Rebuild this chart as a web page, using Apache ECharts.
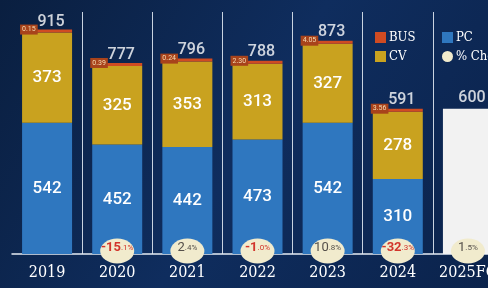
<!DOCTYPE html>
<html>
<head>
<meta charset="utf-8">
<script src="https://cdn.jsdelivr.net/npm/echarts@6/dist/echarts.min.js"></script>
<style>
  html, body { margin: 0; padding: 0; background: #0b2349; }
  #chart { width: 488px; height: 288px; }
</style>
</head>
<body>
<div id="chart"></div>
<script>
var years = ['2019', '2020', '2021', '2022', '2023', '2024', '2025FC'];
var pc = [542, 452, 442, 473, 542, 310, '-'];
var cv = [373, 325, 353, 313, 327, 278, '-'];
var bus = [0.15, 0.39, 0.24, 2.30, 4.05, 3.56, '-'];
var forecast = ['-', '-', '-', '-', '-', '-', 600];
var totals = [915, 777, 796, 788, 873, 591, 600];
var pctChg = [null, -15.1, 2.4, -1.0, 10.8, -32.3, 1.5];

var serifFont = '"DejaVu Serif Condensed", "Liberation Serif", serif';
var sansFont = 'Roboto, "Liberation Sans", sans-serif';

var myChart = echarts.init(document.getElementById('chart'));

// % chg circles sit on the baseline, the number goes in the label
var chgData = pctChg.map(function (p) {
    return p == null ? '-' : 0;
});

var option = {
    backgroundColor: {
        type: 'linear', x: 0, y: 0, x2: 1, y2: 1,
        colorStops: [
            { offset: 0, color: '#0a1f40' },
            { offset: 0.5, color: '#0f2d5e' },
            { offset: 1, color: '#0b234c' }
        ]
    },
    animation: false,
    // the last column runs off the right edge, like the source image
    grid: { left: 12, right: -15, top: 12, bottom: 34, outerBoundsMode: 'none', containLabel: false },
    legend: [
        {
            orient: 'vertical', left: 370, top: 26,
            itemWidth: 11, itemHeight: 11, itemGap: 6,
            data: [{ name: 'BUS', icon: 'rect' }, { name: 'CV', icon: 'rect' }],
            textStyle: { color: '#fff', fontSize: 13, fontFamily: serifFont, padding: [0, 0, 0, -2] }
        },
        {
            orient: 'vertical', left: 437, top: 26,
            itemWidth: 11, itemHeight: 11, itemGap: 6,
            data: [{ name: 'PC', icon: 'rect' }, { name: '% Chg', icon: 'circle' }],
            textStyle: { color: '#fff', fontSize: 13, fontFamily: serifFont, padding: [0, 0, 0, -2] }
        }
    ],
    xAxis: {
        type: 'category',
        data: years,
        axisTick: { show: false },
        axisLine: { lineStyle: { color: '#e6edf5', width: 1.5 } },
        axisLabel: { interval: 0, color: '#fff', fontSize: 16, fontFamily: serifFont, margin: 11 },
        splitLine: {
            show: true,
            interval: function (index) { return index > 0; },
            lineStyle: { color: '#c9d3e0', width: 1 }
        }
    },
    yAxis: { type: 'value', min: 0, max: 1000, show: false },
    series: [
        {
            name: 'PC', type: 'bar', stack: 'total', barWidth: 50,
            data: pc,
            itemStyle: { color: '#2f77bf' },
            label: { show: true, position: 'inside', color: '#fff', fontSize: 17, fontWeight: 500, fontFamily: sansFont }
        },
        {
            name: 'CV', type: 'bar', stack: 'total',
            data: cv,
            itemStyle: { color: '#c9a21f' },
            label: { show: true, position: 'inside', color: '#fff', fontSize: 17, fontWeight: 500, fontFamily: sansFont }
        },
        {
            name: 'BUS', type: 'bar', stack: 'total', barMinHeight: 3,
            data: bus,
            itemStyle: { color: '#d04b22' },
            label: {
                show: true, position: [-2, -5],
                formatter: function (p) { return Number(p.value).toFixed(2); },
                color: '#f6dcb4', fontSize: 7, fontFamily: sansFont,
                backgroundColor: '#a8431b', padding: [1, 2], lineHeight: 8
            }
        },
        {
            name: 'Forecast', type: 'bar', stack: 'total',
            data: forecast,
            itemStyle: { color: '#f2f2f2' }
        },
        {
            name: 'Total', type: 'scatter', symbolSize: 0,
            data: totals,
            z: 5,
            label: {
                show: true, position: 'top', distance: 3, offset: [4, 0],
                color: '#fff', fontSize: 16, fontWeight: 500, fontFamily: sansFont
            }
        },
        {
            name: '% Chg', type: 'scatter',
            data: chgData,
            symbol: 'circle', symbolSize: [34, 25], symbolOffset: [0, -3],
            itemStyle: { color: '#f1ebcd', opacity: 1 },
            z: 10,
            label: {
                show: true, position: 'inside', offset: [0, -3],
                formatter: function (p) {
                    var v = pctChg[p.dataIndex];
                    var parts = v.toFixed(1).split('.');
                    var c = v < 0 ? 'n' : 'p';
                    return '{' + c + 'a|' + parts[0] + '}{' + c + 'b|.' + parts[1] + '%}';
                },
                rich: {
                    na: { color: '#d2352b', fontSize: 13, fontWeight: 'bold', fontFamily: sansFont },
                    nb: { color: '#d2352b', fontSize: 8, fontFamily: sansFont },
                    pa: { color: '#55504a', fontSize: 13, fontFamily: sansFont },
                    pb: { color: '#55504a', fontSize: 8, fontFamily: sansFont }
                }
            }
        }
    ]
};

myChart.setOption(option);
window.addEventListener('resize', function () {
    myChart.resize();
});
</script>
</body>
</html>
